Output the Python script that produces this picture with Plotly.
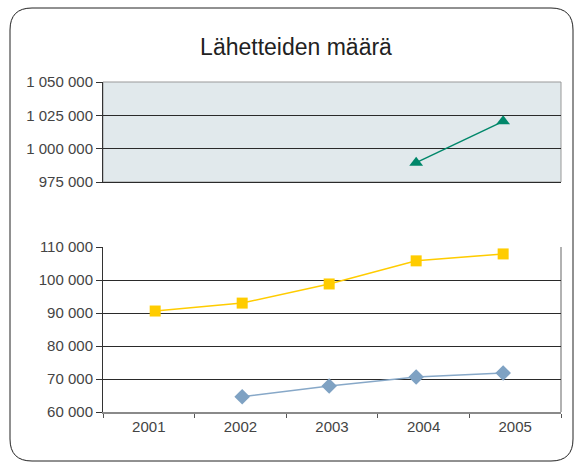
import plotly.graph_objects as go

# Data
years = ["2001", "2002", "2003", "2004", "2005"]
yellow_vals = [90600, 93000, 98800, 105800, 107900]
blue_vals = [None, 64600, 67900, 70600, 71800]
green_vals = [None, None, None, 989500, 1020500]

title_text = "Lähetteiden määrä"

W, H = 574, 462
L, R, T, B = 103, 13, 82, 50
pw, ph = W - L - R, H - T - B

# in the original the markers sit a little off the label centres
data_range = [-0.6, 4.665]


def px_x(x):
    return (x - L) / pw


def px_y(y):
    return (H - B - y) / ph


fig = go.Figure()

# empty trace that keeps the labelled year axis alive
fig.add_trace(go.Scatter(
    x=years, y=[None] * len(years), mode="markers", xaxis="x", yaxis="y",
    marker=dict(opacity=0), hoverinfo="skip",
))
fig.add_trace(go.Scatter(
    x=years, y=yellow_vals, mode="lines+markers", xaxis="x3", yaxis="y",
    line=dict(color="#ffcc00", width=1.5),
    marker=dict(symbol="square", size=11, color="#ffcc00"),
))
fig.add_trace(go.Scatter(
    x=years, y=blue_vals, mode="lines+markers", xaxis="x3", yaxis="y",
    line=dict(color="#87a8c8", width=1.5),
    marker=dict(symbol="diamond", size=12, color="#7fa2c3"),
))
fig.add_trace(go.Scatter(
    x=years, y=green_vals, mode="lines+markers", xaxis="x2", yaxis="y2",
    line=dict(color="#00876a", width=1.5),
    marker=dict(symbol="triangle-up", size=12, color="#00876a"),
))

tick_font = dict(family="Liberation Sans, Arial, sans-serif", size=15, color="#444444")

# rounded outer frame, in paper coordinates
x0, x1 = px_x(10), px_x(573)
y0, y1 = px_y(461), px_y(8)
rx, ry = 22 / pw, 22 / ph
frame = (
    f"M {x0 + rx},{y1} L {x1 - rx},{y1} Q {x1},{y1} {x1},{y1 - ry} "
    f"L {x1},{y0 + ry} Q {x1},{y0} {x1 - rx},{y0} "
    f"L {x0 + rx},{y0} Q {x0},{y0} {x0},{y0 + ry} "
    f"L {x0},{y1 - ry} Q {x0},{y1} {x0 + rx},{y1} Z"
)

top_lo = px_y(182)

fig.update_layout(
    width=W, height=H,
    margin=dict(l=L, r=R, t=T, b=B),
    paper_bgcolor="white", plot_bgcolor="rgba(0,0,0,0)",
    showlegend=False,
    separators=", ",
    font=tick_font,
    title=dict(text=title_text, x=296 / W, xref="container", xanchor="center",
               y=1 - 47 / H, yref="container", yanchor="middle",
               font=dict(family="Liberation Sans, Arial, sans-serif", size=23, color="#222222")),
    xaxis=dict(domain=[0, 1], anchor="y", type="category", range=[-0.5, 4.5],
               categoryorder="array", categoryarray=years,
               showline=True, linecolor="#8a8a8a", linewidth=1.5,
               ticks="outside", tickson="boundaries", ticklen=4, tickcolor="#555555",
               showgrid=False, tickfont=tick_font),
    xaxis3=dict(overlaying="x", anchor="y", type="category", range=data_range,
                categoryorder="array", categoryarray=years, visible=False),
    yaxis=dict(domain=[0, 0.5], anchor="x", range=[60000, 110000], dtick=10000,
               tickformat=",d", showline=True, linecolor="#333333", linewidth=1,
               ticks="outside", ticklen=6, tickcolor="#333333",
               showgrid=True, gridcolor="#2a2a2a", gridwidth=1,
               zeroline=False, tickfont=tick_font),
    xaxis2=dict(domain=[0, 1], anchor="y2", type="category", range=data_range,
                categoryorder="array", categoryarray=years,
                showticklabels=False, showline=True,
                linecolor="#2a2a2a", linewidth=1, ticks="", showgrid=False),
    yaxis2=dict(domain=[top_lo, 1], anchor="x2", range=[975000, 1050000], dtick=25000,
                tickformat=",d", showline=True, linecolor="#333333", linewidth=1,
                ticks="outside", ticklen=6, tickcolor="#333333",
                showgrid=True, gridcolor="#2a2a2a", gridwidth=1,
                zeroline=False, tickfont=tick_font),
    shapes=[
        dict(type="rect", xref="x2 domain", yref="y2 domain", x0=0, x1=1, y0=0, y1=1,
             fillcolor="#e1e9ec", line=dict(color="#999999", width=1), layer="below"),
        dict(type="line", xref="paper", yref="y domain", x0=1, x1=1, y0=0, y1=1,
             line=dict(color="#999999", width=1.5), layer="below"),
        dict(type="path", xref="paper", yref="paper", path=frame,
             line=dict(color="#222222", width=1), layer="below"),
    ],
)

# drop the page's default body margin so the figure sits at the window origin
fig.write_html("out.html", config={"displayModeBar": False},
               post_script="document.body.style.margin='0';")
